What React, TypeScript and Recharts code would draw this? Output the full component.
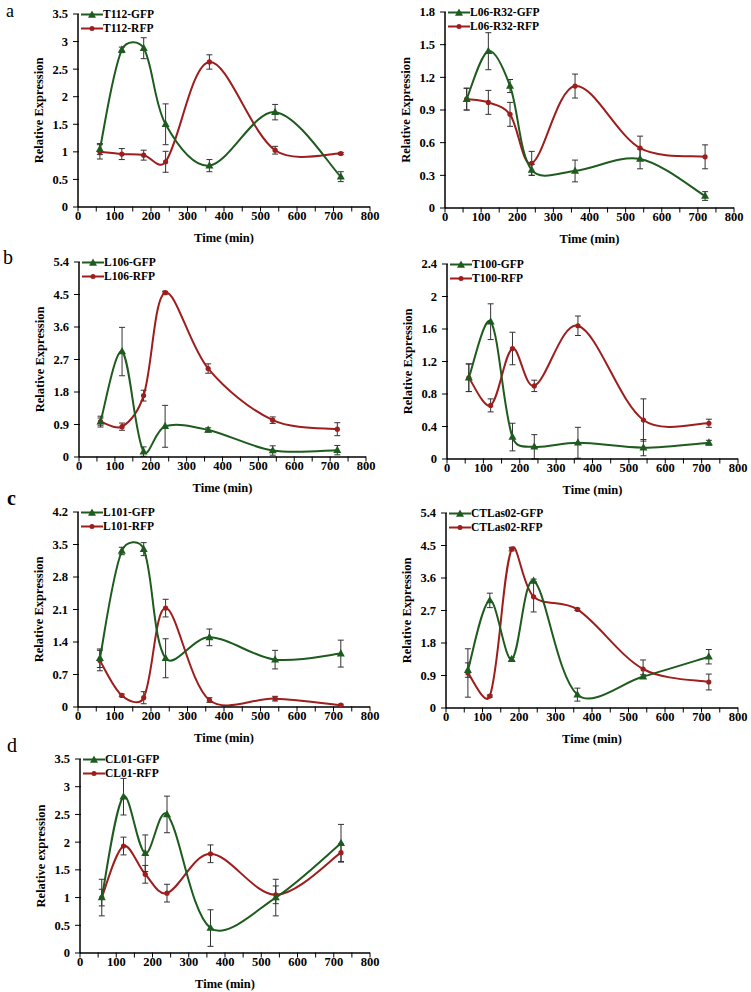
import { LineChart, Line, XAxis, YAxis, ErrorBar, Legend } from "recharts";

// sampling times (min), shared by every panel
const TIME = [60, 120, 180, 240, 360, 540, 720];
const X_TICKS = [0, 50, 100, 150, 200, 250, 300, 350, 400, 450, 500, 550, 600, 650, 700, 750, 800];

// a - T112
const T112_GFP = [1.05, 2.85, 2.88, 1.5, 0.75, 1.72, 0.55];
const T112_GFP_ERR = [0.1, 0.05, 0.19, 0.37, 0.11, 0.14, 0.09];
const T112_RFP = [1.0, 0.96, 0.94, 0.82, 2.63, 1.03, 0.97];
const T112_RFP_ERR = [0.13, 0.1, 0.09, 0.19, 0.13, 0.07, 0.02];
const T112_TICKS = [0, 0.5, 1, 1.5, 2, 2.5, 3, 3.5];

// a - L06-R32
const L06_GFP = [1.0, 1.44, 1.12, 0.35, 0.34, 0.45, 0.11];
const L06_GFP_ERR = [0.1, 0.17, 0.06, 0.05, 0.1, 0.09, 0.04];
const L06_RFP = [1.0, 0.97, 0.86, 0.41, 1.12, 0.55, 0.47];
const L06_RFP_ERR = [0.1, 0.11, 0.11, 0.11, 0.11, 0.11, 0.11];
const L06_TICKS = [0, 0.3, 0.6, 0.9, 1.2, 1.5, 1.8];

// b - L106
const L106_GFP = [0.98, 2.92, 0.15, 0.85, 0.75, 0.18, 0.19];
const L106_GFP_ERR = [0.15, 0.67, 0.13, 0.58, 0.06, 0.13, 0.13];
const L106_RFP = [0.98, 0.84, 1.7, 4.55, 2.45, 1.02, 0.77];
const L106_RFP_ERR = [0.1, 0.1, 0.15, 0.04, 0.13, 0.09, 0.18];
const L106_TICKS = [0, 0.9, 1.8, 2.7, 3.6, 4.5, 5.4];

// b - T100
const T100_GFP = [1.0, 1.69, 0.27, 0.15, 0.2, 0.14, 0.2];
const T100_GFP_ERR = [0.17, 0.22, 0.17, 0.15, 0.19, 0.1, 0.03];
const T100_RFP = [1.0, 0.66, 1.36, 0.9, 1.64, 0.48, 0.44];
const T100_RFP_ERR = [0.17, 0.08, 0.2, 0.07, 0.12, 0.26, 0.05];
const T100_TICKS = [0, 0.4, 0.8, 1.2, 1.6, 2, 2.4];

// c - L101
const L101_GFP = [1.05, 3.36, 3.4, 1.05, 1.5, 1.02, 1.15];
const L101_GFP_ERR = [0.2, 0.08, 0.14, 0.42, 0.18, 0.2, 0.29];
const L101_RFP = [1.0, 0.25, 0.2, 2.13, 0.15, 0.18, 0.04];
const L101_RFP_ERR = [0.22, 0.03, 0.13, 0.19, 0.05, 0.05, 0.02];
const L101_TICKS = [0, 0.7, 1.4, 2.1, 2.8, 3.5, 4.2];

// c - CTLas02
const CTL_GFP = [1.05, 2.98, 1.35, 3.52, 0.37, 0.87, 1.42];
const CTL_GFP_ERR = [0.2, 0.2, 0.05, 0.05, 0.18, 0.05, 0.2];
const CTL_RFP = [0.97, 0.33, 4.4, 3.08, 2.73, 1.08, 0.72];
const CTL_RFP_ERR = [0.67, 0.03, 0.05, 0.42, 0.03, 0.25, 0.22];
const CTL_TICKS = [0, 0.9, 1.8, 2.7, 3.6, 4.5, 5.4];

// d - CL01
const CL01_GFP = [1.0, 2.82, 1.8, 2.5, 0.45, 1.0, 1.98];
const CL01_GFP_ERR = [0.33, 0.33, 0.33, 0.33, 0.33, 0.33, 0.34];
const CL01_RFP = [1.0, 1.93, 1.42, 1.08, 1.79, 1.05, 1.81];
const CL01_RFP_ERR = [0.15, 0.16, 0.16, 0.16, 0.16, 0.16, 0.16];
const CL01_TICKS = [0, 0.5, 1, 1.5, 2, 2.5, 3, 3.5];

const GREEN = "#1e5b1e";
const RED = "#9e1d1d";
const FONT = "'Liberation Serif', 'Times New Roman', serif";

// Excel-like smoothed line: bezier with catmull-rom tangents, damped on short chords
function excelSmooth(context: any) {
  let xs: number[] = [];
  let ys: number[] = [];
  return {
    areaStart() {},
    areaEnd() {},
    lineStart() {
      xs = [];
      ys = [];
    },
    point(x: number, y: number) {
      xs.push(+x);
      ys.push(+y);
    },
    lineEnd() {
      const n = xs.length;
      if (!n) return;
      const len = (i: number, j: number) => Math.hypot(xs[j] - xs[i], ys[j] - ys[i]) || 1;
      context.moveTo(xs[0], ys[0]);
      for (let i = 0; i < n - 1; i++) {
        const a = Math.max(i - 1, 0);
        const d = Math.min(i + 2, n - 1);
        const seg = len(i, i + 1);
        const f1 = i > 0 ? Math.sqrt((2 * seg) / (len(a, i) + seg)) : 1;
        const f2 = i + 2 < n ? Math.sqrt((2 * seg) / (seg + len(i + 1, d))) : 1;
        context.bezierCurveTo(
          xs[i] + ((xs[i + 1] - xs[a]) / 6) * f1,
          ys[i] + ((ys[i + 1] - ys[a]) / 6) * f1,
          xs[i + 1] - ((xs[d] - xs[i]) / 6) * f2,
          ys[i + 1] - ((ys[d] - ys[i]) / 6) * f2,
          xs[i + 1],
          ys[i + 1]
        );
      }
    },
  };
}

const Tri = ({ cx, cy, color }: any) => (
  <path d={`M${cx},${cy - 4.5}L${cx + 4},${cy + 2.8}L${cx - 4},${cy + 2.8}Z`} fill={color} />
);

const XTick = ({ x, y, payload }: any) => (
  <g>
    <line x1={x} x2={x} y1={y - 2.5} y2={y + 2.5} stroke="#000" strokeWidth={1} />
    {payload.value % 100 === 0 && (
      <text x={x} y={y + 11} textAnchor="middle" fontFamily={FONT} fontWeight="bold" fontSize={12.5} fill="#000">
        {payload.value}
      </text>
    )}
  </g>
);

const YTick = ({ x, y, payload }: any) => (
  <g>
    <line x1={x - 3} x2={x + 3} y1={y} y2={y} stroke="#000" strokeWidth={1} />
    <text x={x - 8} y={y} dy="0.35em" textAnchor="end" fontFamily={FONT} fontWeight="bold" fontSize={12.5} fill="#000">
      {payload.value}
    </text>
  </g>
);

const YLabel = ({ viewBox, text }: any) => {
  const cx = viewBox.x + viewBox.width - 39;
  const cy = viewBox.y + viewBox.height / 2;
  return (
    <text x={cx} y={cy} transform={`rotate(-90 ${cx} ${cy})`} textAnchor="middle" dy="0.35em"
      fontFamily={FONT} fontWeight="bold" fontSize={12.5} fill="#000">
      {text}
    </text>
  );
};

const XLabel = ({ viewBox }: any) => (
  <text x={viewBox.x + viewBox.width / 2} y={viewBox.y + 31} dy="0.35em" textAnchor="middle"
    fontFamily={FONT} fontWeight="bold" fontSize={12.5} fill="#000">
    Time (min)
  </text>
);

const LegendBox = ({ name }: { name: string }) => (
  <div style={{ fontFamily: FONT, fontWeight: "bold", fontSize: 11.5, color: "#000", lineHeight: "13.5px" }}>
    {[["GFP", GREEN], ["RFP", RED]].map(([s, c]) => (
      <div key={s} style={{ display: "flex", alignItems: "center", whiteSpace: "nowrap" }}>
        <svg width={22} height={13}>
          <line x1={0} x2={22} y1={6.5} y2={6.5} stroke={c} strokeWidth={2} />
          {s === "GFP" ? <Tri cx={11} cy={7} color={c} /> : <circle cx={11} cy={6.5} r={2.5} fill={c} />}
        </svg>
        <span>{`${name}-${s}`}</span>
      </div>
    ))}
  </div>
);

type Box = { left: number; right: number; top: number; bottom: number };

function Panel({ name, gfp, gfpErr, rfp, rfpErr, yTicks, yLabel = "Relative Expression", box, col }: {
  name: string; gfp: number[]; gfpErr: number[]; rfp: number[]; rfpErr: number[];
  yTicks: number[]; yLabel?: string; box: Box; col: number;
}) {
  const rows = TIME.map((t, i) => ({ t, gfp: gfp[i], ge: gfpErr[i], rfp: rfp[i], re: rfpErr[i] }));
  const chartLeft = col === 0 ? 0 : 375;
  const yw = box.left - chartLeft;
  const w = box.right + 10 - chartLeft;
  const h = 10 + (box.bottom - box.top) + 40;
  return (
    <div style={{ position: "absolute", left: chartLeft, top: box.top - 10 }}>
      <LineChart width={w} height={h} data={rows} margin={{ top: 10, right: 10, left: 0, bottom: 0 }}>
        <XAxis dataKey="t" type="number" domain={[0, 800]} ticks={X_TICKS} interval={0} tickSize={0}
          tickLine={false} tick={<XTick />} height={40} axisLine={{ stroke: "#000", strokeWidth: 1.5 }}
          label={<XLabel />} />
        <YAxis type="number" domain={[0, yTicks[yTicks.length - 1]]} ticks={yTicks} interval={0} tickSize={0}
          tickLine={false} tick={<YTick />} width={yw} axisLine={{ stroke: "#000", strokeWidth: 1.5 }}
          label={<YLabel text={yLabel} />} />
        <Legend layout="vertical" align="center" verticalAlign="middle"
          wrapperStyle={{ left: yw + 3, top: 4, width: "auto", height: "auto" }}
          content={() => <LegendBox name={name} />} />
        <Line dataKey="rfp" type={excelSmooth as any} stroke={RED} strokeWidth={2} isAnimationActive={false}
          dot={(p: any) => <circle key={`r${p.index}`} cx={p.cx} cy={p.cy} r={2.6} fill={RED} />}>
          <ErrorBar dataKey="re" direction="y" width={3} stroke="#333" strokeWidth={1} isAnimationActive={false} />
        </Line>
        <Line dataKey="gfp" type={excelSmooth as any} stroke={GREEN} strokeWidth={2} isAnimationActive={false}
          dot={(p: any) => <Tri key={`g${p.index}`} cx={p.cx} cy={p.cy} color={GREEN} />}>
          <ErrorBar dataKey="ge" direction="y" width={3} stroke="#333" strokeWidth={1} isAnimationActive={false} />
        </Line>
      </LineChart>
    </div>
  );
}

export default function App() {
  return (
    <div style={{ position: "absolute", left: 0, top: 0, width: 751, height: 992, background: "#fff", overflow: "hidden" }}>
      <Panel name="T112" gfp={T112_GFP} gfpErr={T112_GFP_ERR} rfp={T112_RFP} rfpErr={T112_RFP_ERR}
        yTicks={T112_TICKS} col={0} box={{ left: 78, right: 370, top: 14, bottom: 207 }} />
      <Panel name="L06-R32" gfp={L06_GFP} gfpErr={L06_GFP_ERR} rfp={L06_RFP} rfpErr={L06_RFP_ERR}
        yTicks={L06_TICKS} col={1} box={{ left: 445, right: 734, top: 12, bottom: 208 }} />
      <Panel name="L106" gfp={L106_GFP} gfpErr={L106_GFP_ERR} rfp={L106_RFP} rfpErr={L106_RFP_ERR}
        yTicks={L106_TICKS} col={0} box={{ left: 79, right: 366, top: 262, bottom: 457 }} />
      <Panel name="T100" gfp={T100_GFP} gfpErr={T100_GFP_ERR} rfp={T100_RFP} rfpErr={T100_RFP_ERR}
        yTicks={T100_TICKS} col={1} box={{ left: 447, right: 738, top: 264, bottom: 459 }} />
      <Panel name="L101" gfp={L101_GFP} gfpErr={L101_GFP_ERR} rfp={L101_RFP} rfpErr={L101_RFP_ERR}
        yTicks={L101_TICKS} col={0} box={{ left: 78, right: 370, top: 512, bottom: 707 }} />
      <Panel name="CTLas02" gfp={CTL_GFP} gfpErr={CTL_GFP_ERR} rfp={CTL_RFP} rfpErr={CTL_RFP_ERR}
        yTicks={CTL_TICKS} col={1} box={{ left: 446, right: 738, top: 513, bottom: 708 }} />
      <Panel name="CL01" gfp={CL01_GFP} gfpErr={CL01_GFP_ERR} rfp={CL01_RFP} rfpErr={CL01_RFP_ERR}
        yTicks={CL01_TICKS} yLabel="Relative expression" col={0} box={{ left: 80, right: 370, top: 759, bottom: 953 }} />
      <svg width={751} height={992} style={{ position: "absolute", left: 0, top: 0, pointerEvents: "none" }}>
        <g fontFamily={FONT} fontSize={20} fill="#000">
          <text x={6} y={17} fontSize={18}>a</text>
          <text x={3} y={264}>b</text>
          <text x={7} y={505} fontWeight="bold">c</text>
          <text x={7} y={752}>d</text>
        </g>
      </svg>
    </div>
  );
}
